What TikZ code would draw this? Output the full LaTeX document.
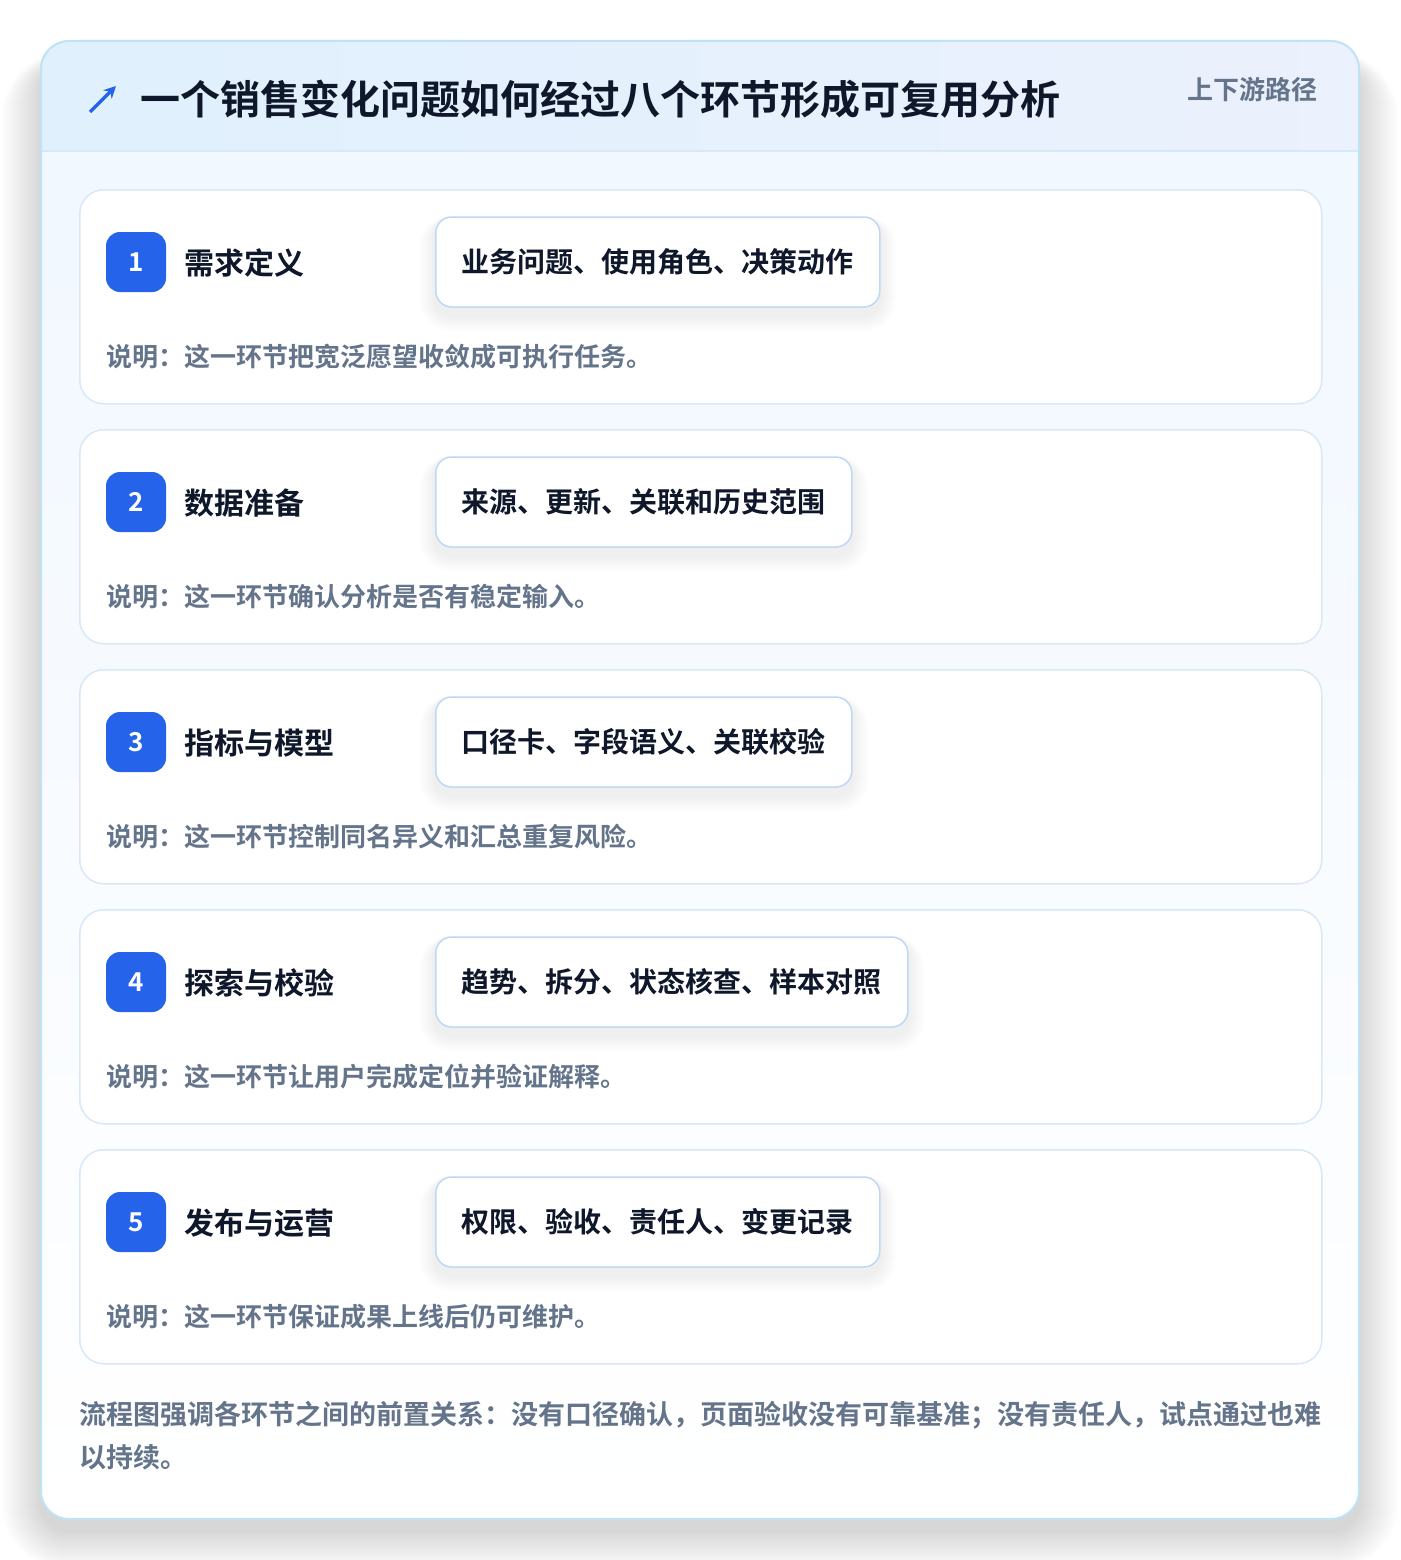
\documentclass[tikz,border=0pt]{standalone}
\usepackage{fontspec}
\setmainfont{Noto Sans CJK SC}[BoldFont=* Bold]
\usetikzlibrary{arrows.meta}
\definecolor{badgeblue}{HTML}{2563EB}
\definecolor{ink}{HTML}{0F172A}
\definecolor{mute}{HTML}{64748B}
\definecolor{outerline}{HTML}{BFE2F7}
\definecolor{hdrL}{HTML}{E0F0FD}
\definecolor{hdrR}{HTML}{EBF1FD}
\definecolor{hdrline}{HTML}{D6E8FA}
\definecolor{bodytop}{HTML}{F0F7FF}
\definecolor{cardline}{HTML}{D9E8F7}
\definecolor{tagline}{HTML}{BFD8F5}
\pgfdeclarelayer{bottom}
\pgfdeclarelayer{back}
\pgfdeclarelayer{shad}
\pgfsetlayers{bottom,back,shad,main}
\newcommand{\fsz}[1]{\fontsize{#1pt}{#1pt}\selectfont}
\tikzset{
  stepcard/.style={draw=cardline, line width=1.5pt, fill=white, rounded corners=24pt,
    minimum width=1242pt, minimum height=214pt, anchor=north west, inner sep=0pt},
  badgebox/.style={fill=badgeblue, rounded corners=14pt, minimum width=60pt, minimum height=60pt,
    inner sep=0pt, text=white, font=\bfseries\fsz{26}},
  steptitle/.style={anchor=west, inner sep=0pt, text=ink, font=\bfseries\fsz{30}},
  tagbox/.style={draw=tagline, line width=1.5pt, fill=white, rounded corners=16pt,
    minimum height=90pt, inner xsep=26pt, anchor=west, text=ink, font=\bfseries\fsz{28}},
  desctext/.style={anchor=west, inner sep=0pt, text=mute, font=\bfseries\fsz{26}},
  notetext/.style={anchor=west, inner sep=0pt, text=mute, font=\bfseries\fsz{27}},
}
\begin{document}
\begin{tikzpicture}[x=1pt,y=-1pt]
\useasboundingbox (0,0) rectangle (1400,1560);
\begin{pgfonlayer}{bottom}
\fill[white] (0,0) rectangle (1400,1560);
% outer shadow
\foreach \k in {1,...,40}{
  \fill[black,opacity=0.0032,rounded corners={28+\k}] ({41-\k},{41-\k*0.3+22}) rectangle ({1359+\k},{1519+\k+12});
}
% outer card body
\shade[top color=bodytop, bottom color=white, rounded corners=28pt] (41,41) rectangle (1359,1519);
\begin{scope}
  \clip[rounded corners=28pt] (41,41) rectangle (1359,1519);
  \shade[left color=hdrL, right color=hdrR] (41,41) rectangle (1359,151);
\end{scope}
\draw[hdrline, line width=1.5pt] (41,151) -- (1359,151);
\draw[outerline, line width=2pt, rounded corners=28pt] (41,41) rectangle (1359,1519);
\end{pgfonlayer}
% header
\coordinate (arrS) at (90,112);
\coordinate (arrE) at (116,86);
\draw[badgeblue, line width=3.4pt, -{Stealth[length=12pt,width=12pt]}] (arrS) -- (arrE);
\node[anchor=west, inner sep=0pt, text=ink, font=\bfseries\fsz{40}] (htitle) at (140,99) {一个销售变化问题如何经过八个环节形成可复用分析};
\node[anchor=east, inner sep=0pt, text=mute, font=\bfseries\fsz{26}] (hright) at (1318,90) {上下游路径};
% steps
\foreach \i/\t/\g/\d in {
  1/需求定义/业务问题、使用角色、决策动作/这一环节把宽泛愿望收敛成可执行任务。,
  2/数据准备/来源、更新、关联和历史范围/这一环节确认分析是否有稳定输入。,
  3/指标与模型/口径卡、字段语义、关联校验/这一环节控制同名异义和汇总重复风险。,
  4/探索与校验/趋势、拆分、状态核查、样本对照/这一环节让用户完成定位并验证解释。,
  5/发布与运营/权限、验收、责任人、变更记录/这一环节保证成果上线后仍可维护。}{
  \pgfmathsetmacro{\yy}{189+(\i-1)*240}
  \begin{pgfonlayer}{back}
    \node[stepcard] (card\i) at (79,\yy) {};
  \end{pgfonlayer}
  \node[badgebox] (badge\i) at (136,{\yy+73}) {\i};
  \node[steptitle] (title\i) at (184,{\yy+74}) {\t};
  \node[tagbox] (tag\i) at (435,{\yy+73}) {\g};
  \begin{pgfonlayer}{shad}
    \foreach \k in {1,...,16}{
      \fill[black,opacity=0.0045,rounded corners={16+\k}]
        ([xshift={-\k*1pt}, yshift={-8pt-\k*1pt}]tag\i.south west) rectangle
        ([xshift={\k*1pt}, yshift={-4pt+\k*0.3pt}]tag\i.north east);
    }
  \end{pgfonlayer}
  \node[desctext] (desc\i) at (106,{\yy+168}) {说明：\d};
}
% note
\node[notetext] (note1) at (79,1415) {流程图强调各环节之间的前置关系：没有口径确认，页面验收没有可靠基准；没有责任人，试点通过也难};
\node[notetext] (note2) at (79,1457) {以持续。};
\end{tikzpicture}
\end{document}
